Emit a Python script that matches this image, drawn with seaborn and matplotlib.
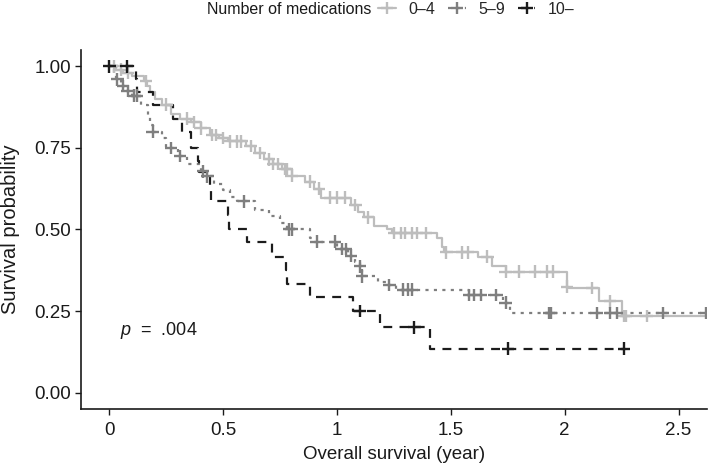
import numpy as np
import pandas as pd
import matplotlib
matplotlib.use("Agg")
import matplotlib.pyplot as plt
from matplotlib.lines import Line2D
import seaborn as sns

# ---------------- data ----------------
groups = ["0–4", "5–9", "10–"]

# 0-4 medications: event times and survival after each event
t_low = [0.03, 0.06, 0.10, 0.15, 0.165, 0.18, 0.20, 0.23, 0.27, 0.31, 0.36, 0.40,
         0.44, 0.48, 0.52, 0.60, 0.64, 0.68, 0.72, 0.76, 0.80, 0.86, 0.90, 0.93,
         1.06, 1.09, 1.12, 1.16, 1.22, 1.24, 1.44, 1.46, 1.47, 1.62, 1.68, 1.74,
         2.01, 2.02, 2.15, 2.25]
s_low = [0.99, 0.98, 0.97, 0.955, 0.94, 0.92, 0.90, 0.883, 0.853, 0.84, 0.83, 0.81,
         0.79, 0.78, 0.77, 0.755, 0.735, 0.715, 0.70, 0.685, 0.665, 0.647, 0.625, 0.598,
         0.575, 0.555, 0.537, 0.51, 0.50, 0.49, 0.475, 0.445, 0.43, 0.417, 0.387, 0.371,
         0.325, 0.32, 0.28, 0.235]
c_low = [0.02, 0.05, 0.08, 0.16, 0.25, 0.34, 0.37, 0.40, 0.45, 0.47, 0.50, 0.53,
         0.56, 0.58, 0.62, 0.66, 0.70, 0.72, 0.74, 0.77, 0.78, 0.80, 0.88, 0.92,
         0.97, 1.00, 1.035, 1.08, 1.135, 1.25, 1.28, 1.30, 1.33, 1.35, 1.39, 1.48,
         1.55, 1.575, 1.66, 1.74, 1.80, 1.87, 1.92, 1.95, 2.01, 2.12, 2.20, 2.26,
         2.27, 2.36]
end_low = 2.62

# 5-9 medications
t_mid = [0.02, 0.03, 0.05, 0.07, 0.10, 0.14, 0.17, 0.18, 0.19, 0.23, 0.25, 0.30,
         0.34, 0.40, 0.43, 0.46, 0.50, 0.53, 0.56, 0.64, 0.70, 0.75, 0.78, 0.88,
         0.90, 1.00, 1.05, 1.08, 1.10, 1.11, 1.18, 1.22, 1.26, 1.58, 1.73, 1.76]
s_mid = [0.98, 0.96, 0.94, 0.925, 0.91, 0.88, 0.85, 0.82, 0.80, 0.78, 0.75, 0.725,
         0.70, 0.678, 0.663, 0.64, 0.62, 0.60, 0.586, 0.56, 0.54, 0.52, 0.50, 0.475,
         0.463, 0.44, 0.42, 0.40, 0.387, 0.356, 0.34, 0.33, 0.316, 0.30, 0.276, 0.245]
c_mid = [0.035, 0.06, 0.08, 0.11, 0.12, 0.19, 0.27, 0.31, 0.41, 0.43, 0.59, 0.79,
         0.80, 0.91, 0.99, 1.02, 1.04, 1.06, 1.10, 1.11, 1.23, 1.29, 1.31, 1.33,
         1.58, 1.60, 1.63, 1.70, 1.74, 1.93, 1.94, 2.14, 2.20, 2.23, 2.43, 2.62]
end_mid = 2.62

# 10+ medications
t_high = [0.115, 0.12, 0.19, 0.28, 0.32, 0.36, 0.39, 0.395, 0.44, 0.445, 0.52, 0.525,
          0.605, 0.715, 0.775, 0.78, 0.88, 1.07, 1.19, 1.41]
s_high = [0.96, 0.92, 0.88, 0.84, 0.80, 0.75, 0.71, 0.675, 0.63, 0.586, 0.545, 0.503,
          0.463, 0.417, 0.375, 0.334, 0.294, 0.25, 0.20, 0.135]
c_high = [0.0, 0.075, 1.10, 1.34, 1.75, 2.26]
end_high = 2.26

p_text = ".004"
x_ticks = [0, 0.5, 1, 1.5, 2, 2.5]
x_ticklabels = ["0", "0.5", "1", "1.5", "2", "2.5"]
y_ticks = [0.00, 0.25, 0.50, 0.75, 1.00]
y_ticklabels = ["0.00", "0.25", "0.50", "0.75", "1.00"]

# ---------------- build tables ----------------
series = {
    "0–4": (t_low, s_low, c_low, end_low),
    "5–9": (t_mid, s_mid, c_mid, end_mid),
    "10–": (t_high, s_high, c_high, end_high),
}
line_rows, cens_rows = [], []
for g in groups:
    t, s, c, end = series[g]
    tt = [0.0] + list(t) + [end]
    ss = [1.0] + list(s) + [s[-1]]
    for a, b in zip(tt, ss):
        line_rows.append((g, a, b))
    t_arr = np.array(tt[:-1])
    s_arr = np.array(ss[:-1])
    for ct in c:
        idx = np.searchsorted(t_arr, ct, side="right") - 1
        cens_rows.append((g, ct, s_arr[max(idx, 0)]))
lines = pd.DataFrame(line_rows, columns=["group", "time", "surv"])
cens = pd.DataFrame(cens_rows, columns=["group", "time", "surv"])

# ---------------- style ----------------
sns.set_theme(style="ticks")
plt.rcParams["font.family"] = ["Liberation Sans", "DejaVu Sans"]
plt.rcParams["mathtext.fontset"] = "custom"
plt.rcParams["mathtext.it"] = "Liberation Sans:italic"
plt.rcParams["mathtext.rm"] = "Liberation Sans"

palette = {"0–4": "#bdbdbd", "5–9": "#7f7f7f", "10–": "#1c1c1c"}
dashes = {"0–4": "", "5–9": (1.4, 2.4), "10–": (4.0, 3.3)}
LW = 1.6

fig = plt.figure(figsize=(7.09, 4.65), dpi=100)
ax = fig.add_axes([81 / 709, 56 / 465, 626 / 709, 359 / 465])

sns.lineplot(data=lines, x="time", y="surv", hue="group", style="group",
             hue_order=groups, style_order=groups, palette=palette, dashes=dashes,
             estimator=None, sort=False, drawstyle="steps-post", linewidth=LW,
             legend=False, ax=ax)
sns.scatterplot(data=cens, x="time", y="surv", hue="group", hue_order=groups,
                palette=palette, marker="+", s=80, linewidth=1.7, legend=False,
                ax=ax, zorder=3)

ax.set_xlim(-0.125, 2.625)
ax.set_ylim(-0.05, 1.05)
ax.set_xticks(x_ticks)
ax.set_xticklabels(x_ticklabels)
ax.set_yticks(y_ticks)
ax.set_yticklabels(y_ticklabels)
ax.tick_params(axis="both", labelsize=13.5, colors="#1a1a1a", length=4, width=1.0,
               pad=3)
ax.tick_params(axis="x", pad=5)
for side in ["top", "right"]:
    ax.spines[side].set_visible(False)
for side in ["left", "bottom"]:
    ax.spines[side].set_linewidth(1.2)
    ax.spines[side].set_color("#1a1a1a")

ax.set_xlabel("Overall survival (year)", fontsize=13.5, color="#1a1a1a")
ax.set_ylabel("Survival probability", fontsize=14.5, color="#1a1a1a")
ax.xaxis.set_label_coords(0.5, -0.103)
ax.yaxis.set_label_coords(-0.098, 0.5)

ax.text(0.048, 0.19, r"$\it{p}$  =  " + p_text, fontsize=13, va="center",
        ha="left", color="#1a1a1a")

# legend at top
fig.text(371 / 709, 1 - 9 / 465, "Number of medications", ha="right", va="center",
         fontsize=11.5, color="#1a1a1a")
handles = [Line2D([0], [0], color=palette[g], lw=LW,
                  linestyle="-" if not dashes[g] else (0, dashes[g]),
                  marker="+", markersize=9, markeredgewidth=1.7) for g in groups]
fig.legend(handles, groups, loc="center left", bbox_to_anchor=(378 / 709, 1 - 9 / 465),
           ncol=3, frameon=False, fontsize=11.5, handlelength=1.1, handletextpad=0.8,
           columnspacing=0.8, borderaxespad=0, borderpad=0)

fig.savefig("out.png", dpi=100)
